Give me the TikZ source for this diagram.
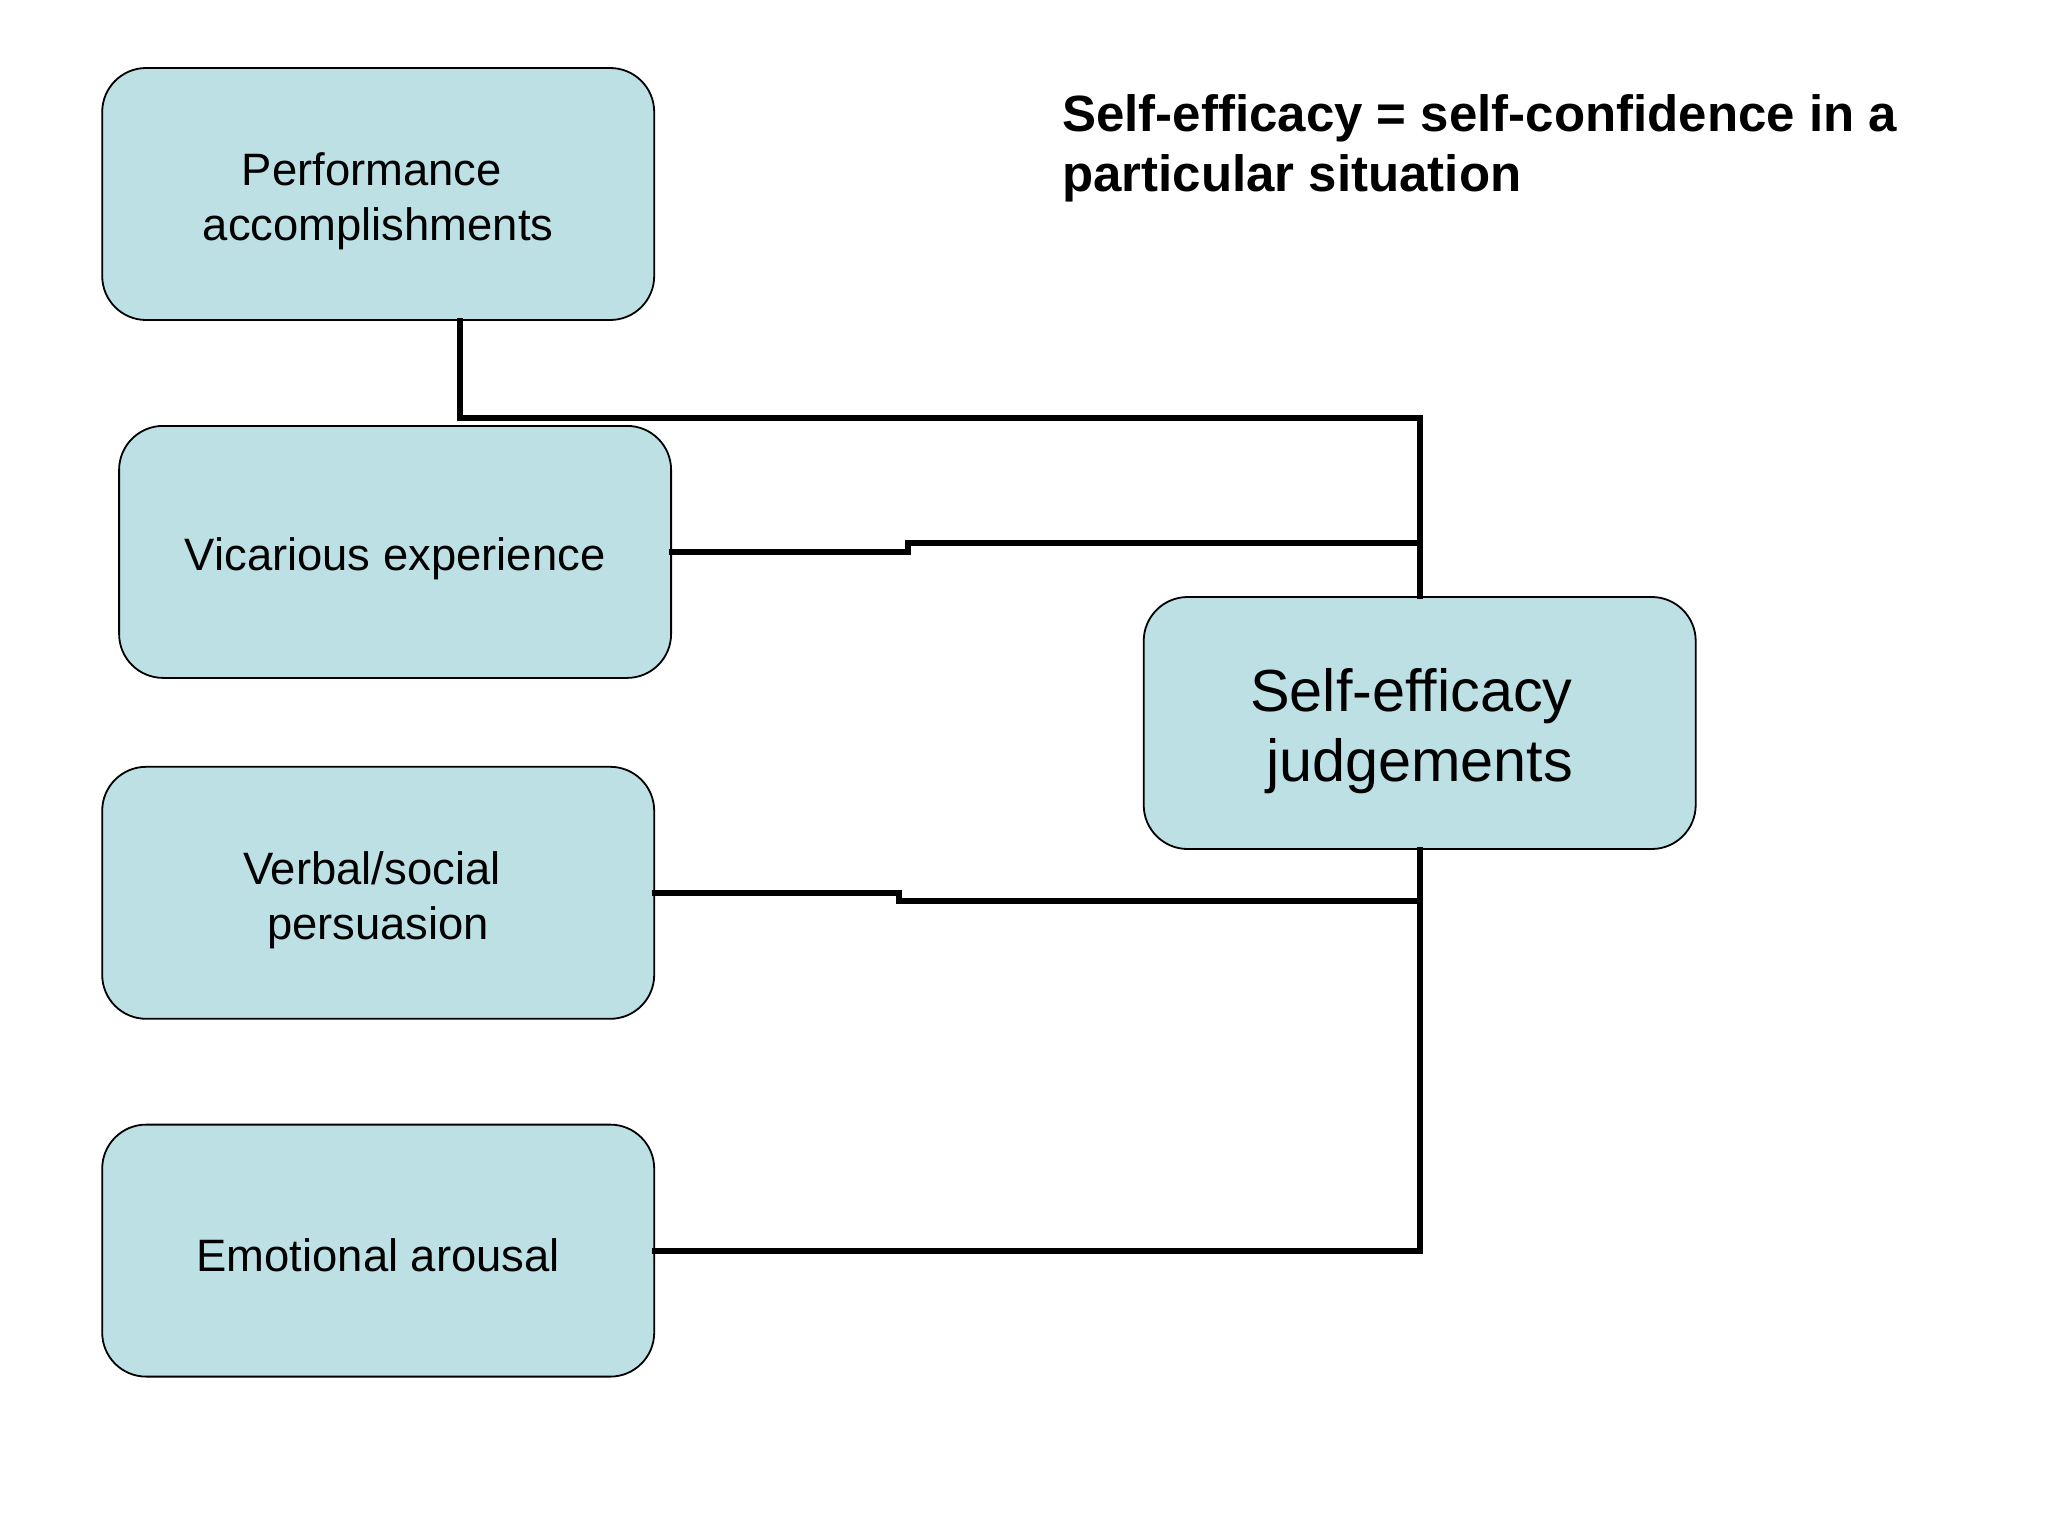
\documentclass[tikz,border=0pt]{standalone}
\usepackage{fontspec}
\setmainfont{Liberation Sans}
\definecolor{boxfill}{RGB}{188,224,228}
\newcommand{\trsp}{\kern0.278em}
\begin{document}
\begin{tikzpicture}[x=0.5pt,y=-0.5pt,
  srcbox/.style={draw=black,line width=0.9pt,fill=boxfill,rounded corners=22pt,
    minimum width=276pt,minimum height=126pt,inner sep=0pt},
  srctext/.style={align=center,inner sep=0pt,yshift=-3.5pt,
    font=\fontsize{22.7}{27.5}\selectfont},
  setext/.style={align=center,inner sep=0pt,yshift=-4pt,
    font=\fontsize{29.7}{35.3}\selectfont},
  conn/.style={line width=3pt,line join=miter,line cap=rect}]
\useasboundingbox[fill=white] (0,0) rectangle (2048,1536);
\node[srcbox,label={[srctext]center:Performance\trsp\\accomplishments}] (perf) at (378.2,194) {};
\node[srcbox,label={[srctext]center:Vicarious experience}] (vic) at (395.1,551.9) {};
\node[srcbox,label={[srctext]center:Verbal/social\trsp\\persuasion}] (verb) at (378.2,892.8) {};
\node[srcbox,label={[srctext,yshift=1.2pt]center:Emotional arousal}] (emo) at (378.2,1250.6) {};
\node[srcbox,label={[setext]center:Self-efficacy\trsp\\judgements}] (se) at (1419.7,723) {};
\node[anchor=west,align=left,inner sep=0pt,yshift=-2.5pt,font=\bfseries\fontsize{25.5}{30}\selectfont]
  (title) at (1062,143.6) {Self-efficacy = self-confidence in a\\particular situation};
\coordinate (jv) at (1419.7,543.3);
\coordinate (jb) at (1419.7,901.2);
\begin{scope}[conn]
\draw ([xshift=40.75pt]perf.south) -- ++(0,-48.3pt) -| (se.north);
\draw (vic.east) -- ++(118.2pt,0) |- (jv);
\draw (verb.east) -- ++(122.1pt,0) |- (jb);
\draw (emo.east) -| (se.south);
\end{scope}
\end{tikzpicture}
\end{document}
